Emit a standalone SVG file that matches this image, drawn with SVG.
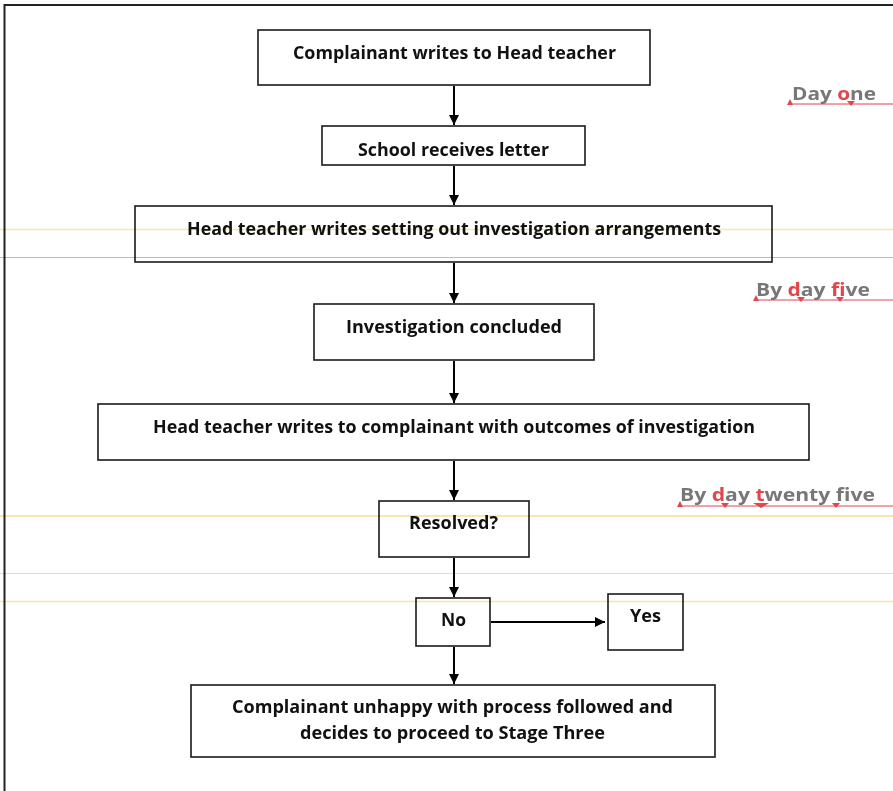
<svg xmlns="http://www.w3.org/2000/svg" width="893" height="791" viewBox="0 0 893 791">
<defs>
<marker id="ah" markerWidth="10" markerHeight="10" refX="10" refY="5" orient="auto" markerUnits="userSpaceOnUse">
<path d="M0,0 L10,5 L0,10 Z" fill="#000"/>
</marker>
<style>
.box{fill:#fff;stroke:#1a1a1a;stroke-width:1.6}
.t{font-family:"Open Sans","Noto Sans","Liberation Sans",sans-serif;font-weight:bold;font-size:17px;fill:#111;text-anchor:middle}
.side{font-family:"Open Sans","Noto Sans","Liberation Sans",sans-serif;font-weight:bold;font-size:18px;fill:#777}
.red{fill:#e0474c}
.c{stroke:#000;stroke-width:2;fill:none;marker-end:url(#ah)}
.ul{stroke:#e0474c;stroke-width:1;fill:none}
#guides{mix-blend-mode:multiply}
</style>
</defs>
<rect width="893" height="791" fill="#fff"/>
<!-- frame -->
<g id="frame">
<line x1="4.5" y1="5" x2="893" y2="5" stroke="#222" stroke-width="2"/>
<line x1="4.5" y1="4" x2="4.5" y2="791" stroke="#222" stroke-width="2"/>
</g>
<g id="connectors">
<line class="c" x1="454" y1="86" x2="454" y2="125"/>
<line class="c" x1="454" y1="166" x2="454" y2="205"/>
<line class="c" x1="454" y1="263" x2="454" y2="303"/>
<line class="c" x1="454" y1="361" x2="454" y2="403"/>
<line class="c" x1="454" y1="461" x2="454" y2="500"/>
<line class="c" x1="454" y1="558" x2="454" y2="597"/>
<line class="c" x1="454" y1="647" x2="454" y2="684"/>
<line class="c" x1="491" y1="622" x2="605" y2="622"/>
</g>
<g id="n1"><rect class="box" x="258" y="30" width="392" height="55"/><text class="t" x="454.5" y="59" textLength="323" lengthAdjust="spacingAndGlyphs">Complainant writes to Head teacher</text></g>
<g id="n2"><rect class="box" x="322" y="126" width="263" height="39"/><text class="t" x="453.5" y="156" textLength="191" lengthAdjust="spacingAndGlyphs">School receives letter</text></g>
<g id="n3"><rect class="box" x="135" y="206" width="637" height="56"/><text class="t" x="454" y="235" textLength="534" lengthAdjust="spacingAndGlyphs">Head teacher writes setting out investigation arrangements</text></g>
<g id="n4"><rect class="box" x="314" y="304" width="280" height="56"/><text class="t" x="454" y="333" textLength="216" lengthAdjust="spacingAndGlyphs">Investigation concluded</text></g>
<g id="n5"><rect class="box" x="98" y="404" width="711" height="56"/><text class="t" x="454" y="433" textLength="602" lengthAdjust="spacingAndGlyphs">Head teacher writes to complainant with outcomes of investigation</text></g>
<g id="n6"><rect class="box" x="379" y="501" width="150" height="56"/><text class="t" x="453.5" y="529" textLength="89" lengthAdjust="spacingAndGlyphs">Resolved?</text></g>
<g id="n7"><rect class="box" x="416" y="598" width="74" height="48"/><text class="t" x="453.5" y="626" textLength="25" lengthAdjust="spacingAndGlyphs">No</text></g>
<g id="n8"><rect class="box" x="608" y="594" width="75" height="56"/><text class="t" x="645.5" y="622" textLength="31" lengthAdjust="spacingAndGlyphs">Yes</text></g>
<g id="n9"><rect class="box" x="191" y="685" width="524" height="72"/>
<text class="t" x="452.5" y="713" textLength="441" lengthAdjust="spacingAndGlyphs">Complainant unhappy with process followed and</text>
<text class="t" x="452.5" y="739" textLength="305" lengthAdjust="spacingAndGlyphs">decides to proceed to Stage Three</text></g>
<!-- guide lines (drawn over the page, multiplied) -->
<g id="guides">
<line x1="0" y1="229.5" x2="893" y2="229.5" stroke="#fce6ad" stroke-width="1.5"/>
<line x1="0" y1="257.5" x2="893" y2="257.5" stroke="#f2b35a" stroke-width="1"/>
<line x1="0" y1="516" x2="893" y2="516" stroke="#f9dc96" stroke-width="1.5"/>
<line x1="0" y1="573.5" x2="893" y2="573.5" stroke="#dcdcdc" stroke-width="1"/>
<line x1="0" y1="601.5" x2="893" y2="601.5" stroke="#fbe3a6" stroke-width="1.5"/>
</g>
<!-- side labels -->
<g id="day-one">
<text class="side" x="792" y="100" textLength="84" lengthAdjust="spacingAndGlyphs">Day <tspan class="red">o</tspan>ne</text>
<line class="ul" x1="790" y1="104" x2="893" y2="104"/>
<polygon class="red" points="787,105 793,105 790,99"/>
<polygon class="red" points="847,101 855,101 851,106"/>
</g>
<g id="day-five">
<text class="side" x="756" y="296" textLength="114" lengthAdjust="spacingAndGlyphs">By <tspan class="red">d</tspan>ay <tspan class="red">f</tspan>ive</text>
<line class="ul" x1="754" y1="300" x2="893" y2="300"/>
<polygon class="red" points="753,301 759,301 756,295"/>
<polygon class="red" points="797,297 805,297 801,302"/>
<polygon class="red" points="836,297 844,297 840,302"/>
</g>
<g id="day-twenty-five">
<text class="side" x="680" y="501" textLength="195" lengthAdjust="spacingAndGlyphs">By <tspan class="red">d</tspan>ay <tspan class="red">t</tspan>wenty five</text>
<line class="ul" x1="679" y1="506" x2="893" y2="506"/>
<polygon class="red" points="677,507 683,507 680,501"/>
<polygon class="red" points="721,503 729,503 725,508"/>
<polygon class="red" points="753,503 769,503 761,508"/>
<polygon class="red" points="832,503 840,503 836,508"/>
</g>
</svg>
